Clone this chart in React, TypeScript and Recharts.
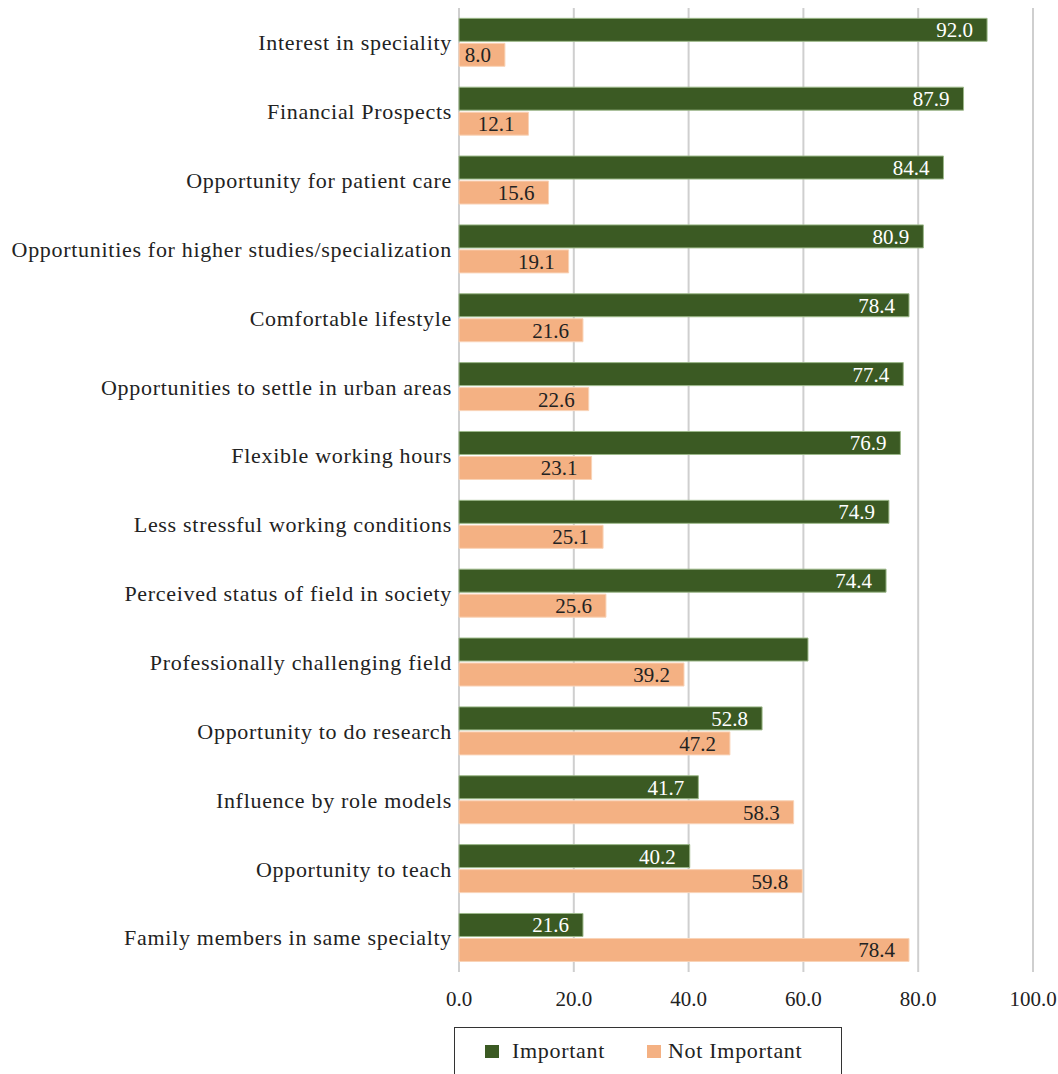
import React from "react";
import { BarChart, Bar, XAxis, YAxis, CartesianGrid, LabelList, Legend } from "recharts";

const categories = [
  "Interest in speciality",
  "Financial Prospects",
  "Opportunity for patient care",
  "Opportunities for higher studies/specialization",
  "Comfortable lifestyle",
  "Opportunities to settle in urban areas",
  "Flexible working hours",
  "Less stressful working conditions",
  "Perceived status of field in society",
  "Professionally challenging field",
  "Opportunity to do research",
  "Influence by role models",
  "Opportunity to teach",
  "Family members in same specialty",
];
const important = [92.0, 87.9, 84.4, 80.9, 78.4, 77.4, 76.9, 74.9, 74.4, 60.8, 52.8, 41.7, 40.2, 21.6];
const notImportant = [8.0, 12.1, 15.6, 19.1, 21.6, 22.6, 23.1, 25.1, 25.6, 39.2, 47.2, 58.3, 59.8, 78.4];
const importantShown = [true, true, true, true, true, true, true, true, true, false, true, true, true, true];
const xTicks = [0, 20, 40, 60, 80, 100];

const data = categories.map((name, i) => ({
  name,
  important: important[i],
  notImportant: notImportant[i],
  importantLabel: importantShown[i] ? important[i].toFixed(1) : "",
  notImportantLabel: notImportant[i].toFixed(1),
}));

const FONT = "'Liberation Serif', serif";
const GREEN = "#3b5a23";
const ORANGE = "#f4b183";

const LegendBox = () => (
  <div
    style={{
      width: 388,
      height: 60,
      border: "1.5px solid #333",
      background: "#fff",
      boxSizing: "border-box",
      fontFamily: FONT,
      fontSize: 22,
      letterSpacing: 0.7,
      color: "#222",
      position: "relative",
    }}
  >
    <div style={{ position: "absolute", left: 30, top: 17, width: 14, height: 13, background: GREEN }} />
    <div style={{ position: "absolute", left: 57, top: 11, lineHeight: "24px" }}>Important</div>
    <div style={{ position: "absolute", left: 192, top: 17, width: 14, height: 13, background: ORANGE }} />
    <div style={{ position: "absolute", left: 213, top: 11, lineHeight: "24px" }}>Not Important</div>
  </div>
);

export default function App() {
  return (
    <div style={{ position: "absolute", left: 0, top: 0, width: 1058, height: 1074, background: "#fff", overflow: "hidden" }}>
      <BarChart
        layout="vertical"
        width={1058}
        height={1074}
        data={data}
        margin={{ top: 8, right: 25, left: 0, bottom: 60 }}
        barCategoryGap="15%"
        barGap={2}
      >
        <CartesianGrid horizontal={false} vertical={true} stroke="#cfcfcf" strokeWidth={2} />
        <XAxis
          type="number"
          domain={[0, 100]}
          ticks={xTicks}
          tickFormatter={(v: number) => v.toFixed(1)}
          axisLine={false}
          tickLine={false}
          tickMargin={13}
          height={42}
          interval={0}
          tick={{ fontFamily: FONT, fontSize: 21, fill: "#222" }}
        />
        <YAxis
          type="category"
          dataKey="name"
          width={459}
          axisLine={false}
          tickLine={false}
          tickMargin={1}
          interval={0}
          tick={{ fontFamily: FONT, fontSize: 22, fill: "#222", letterSpacing: 0.7 }}
        />
        <Legend
          layout="horizontal"
          verticalAlign="middle"
          align="center"
          wrapperStyle={{ position: "absolute", left: 454, top: 1027, width: 388, height: 60 }}
          content={() => <LegendBox />}
        />
        <Bar dataKey="important" name="Important" fill={GREEN} stroke="#9cb889" strokeWidth={1} isAnimationActive={false}>
          <LabelList dataKey="importantLabel" position="insideRight" offset={14} fill="#fff" style={{ fontFamily: FONT, fontSize: 21 }} />
        </Bar>
        <Bar dataKey="notImportant" name="Not Important" fill={ORANGE} stroke="#f9d3b7" strokeWidth={1} isAnimationActive={false}>
          <LabelList dataKey="notImportantLabel" position="insideRight" offset={14} fill="#222" style={{ fontFamily: FONT, fontSize: 21 }} />
        </Bar>
      </BarChart>
    </div>
  );
}
